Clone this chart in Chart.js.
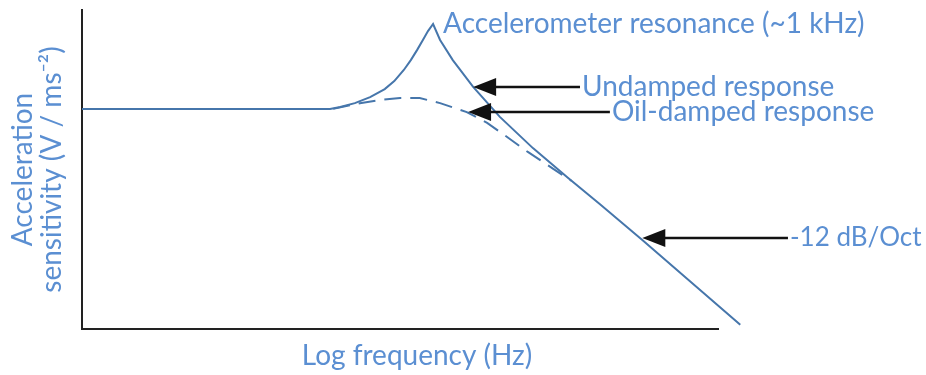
<!DOCTYPE html>
<html>
<head>
<meta charset="utf-8">
<script src="https://cdn.jsdelivr.net/npm/chart.js@4"></script>
<style>
  html, body { margin: 0; padding: 0; background: #fff; }
  #wrap { width: 926px; height: 375px; }
</style>
</head>
<body>
<div id="wrap"><canvas id="myChart"></canvas></div>
<script>
// x = log frequency (arbitrary units), y = relative sensitivity
var freq = [0, 3.90, 4.06, 4.29, 4.53, 4.76, 4.91, 5.06, 5.17, 5.27, 5.36, 5.44, 5.52, 5.63, 5.83, 6.15, 6.57, 7.09, 7.63, 8.14, 8.81, 10.35];
var undamped = [69.0, 69.0, 69.6, 70.8, 72.7, 75.2, 77.7, 81.2, 84.3, 87.5, 90.6, 93.4, 95.6, 90.6, 84.3, 75.9, 66.5, 56.7, 47.6, 39.2, 27.9, 1.3];
var dampedFreq = [3.95, 4.37, 4.69, 5.00, 5.31, 5.63, 6.05, 6.37, 6.62, 7.01, 7.41, 7.70];
var damped = [69.0, 70.8, 71.8, 72.4, 72.4, 70.8, 68.0, 64.6, 61.1, 55.5, 50.2, 46.4];

var peakText = 'Accelerometer resonance (~1 kHz)';
var arrowText = ['Undamped response', 'Oil-damped response', '-12 dB/Oct'];
var arrowTipX = [6.15, 6.07, 8.81];
var arrowTipY = [75.9, 68.0, 28.5];
var arrowTailX = [7.83, 8.30, 11.10];
var xTitle = 'Log frequency (Hz)';
var yTitle = ['Acceleration', 'sensitivity (V / ms\u207B\u00B2)'];

var lineColor = '#4676ab';
var textColor = '#5b8fd2';
var fontFamily = 'Lato, "Open Sans", sans-serif';

function toPoints(xs, ys) {
  return xs.map(function (x, i) { return { x: x, y: ys[i] }; });
}

// arrows + labels on top of the curves
var notes = {
  id: 'notes',
  afterDatasetsDraw: function (chart) {
    var ctx = chart.ctx;
    var xs = chart.scales.x, ys = chart.scales.y;
    var area = chart.chartArea;
    ctx.save();
    ctx.font = '28px ' + fontFamily;
    ctx.textBaseline = 'middle';
    ctx.textAlign = 'left';

    // resonance label next to the peak
    var pk = undamped.indexOf(Math.max.apply(null, undamped));
    ctx.fillStyle = textColor;
    ctx.fillText(peakText, xs.getPixelForValue(freq[pk]) + 10, ys.getPixelForValue(undamped[pk]));

    for (var i = 0; i < arrowText.length; i++) {
      var tx = xs.getPixelForValue(arrowTipX[i]);
      var ty = ys.getPixelForValue(arrowTipY[i]);
      var ex = xs.getPixelForValue(arrowTailX[i]);
      ctx.strokeStyle = '#111';
      ctx.fillStyle = '#111';
      ctx.lineWidth = 2.5;
      ctx.beginPath();
      ctx.moveTo(ex, ty);
      ctx.lineTo(tx + 18, ty);
      ctx.stroke();
      ctx.beginPath();
      ctx.moveTo(tx, ty);
      ctx.lineTo(tx + 23, ty - 9);
      ctx.lineTo(tx + 23, ty + 9);
      ctx.closePath();
      ctx.fill();

      // shrink the label a touch if it would run off the right edge
      var size = 28;
      ctx.font = size + 'px ' + fontFamily;
      while (size > 20 && ex + 2 + ctx.measureText(arrowText[i]).width > chart.width - 2) {
        size -= 0.5;
        ctx.font = size + 'px ' + fontFamily;
      }
      ctx.fillStyle = textColor;
      ctx.fillText(arrowText[i], ex + 2, ty);
      ctx.font = '28px ' + fontFamily;
    }

    // x axis title sits a bit right of centre in the sketch
    ctx.textAlign = 'center';
    ctx.fillText(xTitle, (area.left + area.right) / 2 + 17, area.bottom + 27);
    ctx.restore();
  }
};

var ctx = document.getElementById('myChart').getContext('2d');
var myChart = new Chart(ctx, {
  type: 'line',
  data: {
    datasets: [{
      label: 'Undamped response',
      data: toPoints(freq, undamped),
      borderColor: lineColor,
      borderWidth: 2,
      pointRadius: 0,
      tension: 0,
      clip: false
    }, {
      label: 'Oil-damped response',
      data: toPoints(dampedFreq, damped),
      borderColor: lineColor,
      borderWidth: 2,
      borderDash: [17, 9],
      pointRadius: 0,
      tension: 0,
      clip: false
    }]
  },
  options: {
    responsive: true,
    maintainAspectRatio: false,
    animation: false,
    layout: { padding: { top: 10, right: 208, bottom: 0, left: 0 } },
    plugins: { legend: { display: false }, tooltip: { enabled: false } },
    scales: {
      x: {
        type: 'linear',
        min: 0,
        max: 10,
        grid: { display: false },
        ticks: { display: false },
        border: { display: true, color: '#222', width: 2 },
        afterFit: function (scale) { scale.height = 46; }
      },
      y: {
        min: 0,
        max: 100,
        grid: { display: false },
        ticks: { display: false },
        border: { display: true, color: '#222', width: 2 },
        title: {
          display: true,
          text: yTitle,
          color: textColor,
          font: { family: fontFamily, size: 28, lineHeight: 1.05 },
          padding: { top: 8, bottom: 0 }
        },
        afterFit: function (scale) { scale.width = 82; }
      }
    }
  },
  plugins: [notes]
});
</script>
</body>
</html>
